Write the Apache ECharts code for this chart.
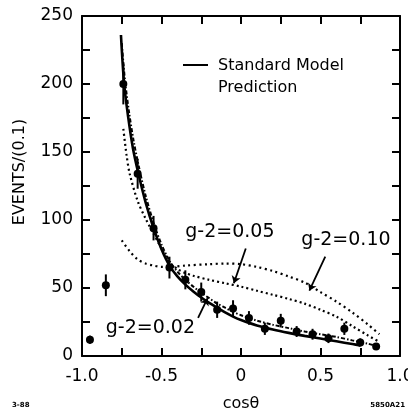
<!DOCTYPE html>
<html><head><meta charset="utf-8">
<script src="https://cdn.jsdelivr.net/npm/echarts@6/dist/echarts.min.js"></script>
<style>html,body{margin:0;padding:0;background:#fff}#c{width:408px;height:413px}</style>
</head><body><div id="c"></div>
<script>
// ---- data ----
const binCenters = [-0.95,-0.85,-0.74,-0.65,-0.55,-0.45,-0.35,-0.25,-0.15,-0.05,0.05,0.15,0.25,0.35,0.45,0.55,0.65,0.75,0.85];
const events     = [12,52,200,134,94,65,56,47,34,35,28,20,26,18,16,13,20,10,7];
const errors     = [3,8,15,11,9,8,7,7,6,6,5,4.5,5,4,4,3.5,4.5,3,2.5];

const smX = [-0.755,-0.735,-0.71,-0.68,-0.645,-0.60,-0.55,-0.50,-0.45,-0.40,-0.35,-0.30,-0.25,-0.20,-0.15,-0.10,-0.05,0,0.1,0.2,0.3,0.4,0.5,0.6,0.7,0.75];
const smY = [236,200,176,153,134,113,94,78.5,66.5,58.5,52.5,47.5,43,39,35.5,32,29,26.5,22.5,19.5,17,14.8,12.8,10.8,8.8,7.8];

const g02X = [-0.75,-0.73,-0.705,-0.675,-0.64,-0.60,-0.55,-0.50,-0.45,-0.40,-0.35,-0.30,-0.25,-0.20,-0.15,-0.10,-0.05,0,0.1,0.2,0.3,0.4,0.5,0.6,0.7,0.8,0.85];
const g02Y = [230,203,180,158,138,118,98,82,70,62,56,51,46.5,42.5,38.5,35.5,32.5,30,26,23,20.5,18,16,14,11.5,9,7.5];

const g05X = [-0.74,-0.72,-0.70,-0.65,-0.60,-0.55,-0.50,-0.45,-0.40,-0.35,-0.30,-0.20,-0.10,0,0.1,0.2,0.3,0.4,0.5,0.6,0.7,0.8,0.86];
const g05Y = [167,148,134,114,101,90,79,69,64,61,59,56,53.5,51,48,45,42,38.5,34,29,22,15,11];

const g10X = [-0.75,-0.70,-0.65,-0.60,-0.55,-0.50,-0.45,-0.35,-0.20,-0.10,0,0.1,0.2,0.3,0.4,0.5,0.6,0.7,0.8,0.87];
const g10Y = [85,77,71,68,66.5,65.5,65.5,66.5,67.5,68,67.5,65.5,62.5,58.5,54,47,40,32,23,16];

const xTicks = [-1.0,-0.5,0,0.5,1.0];
const xTickLabels = ['-1.0','-0.5','0','0.5','1.0'];
const yTicks = [0,50,100,150,200,250];

const annotations = [
  {text:'g-2=0.05', at:[-0.07,91], from:[0.03,79], to:[-0.045,53.5]},
  {text:'g-2=0.10', at:[0.66,85], from:[0.53,73], to:[0.43,48]},
  {text:'g-2=0.02', at:[-0.57,20.5], from:[-0.27,28], to:[-0.21,42.5]}
];

const FONT = 'DejaVu Sans';
const zip = (a,b) => a.map((v,i)=>[v,b[i]]);

const chart = echarts.init(document.getElementById('c'), null, {renderer:'canvas'});

const axisCommon = {
  axisLine:{show:true, onZero:false, lineStyle:{color:'#000', width:2}},
  axisTick:{show:true, inside:true, length:8, lineStyle:{color:'#000', width:2}},
  splitLine:{show:false}
};

const option = {
  backgroundColor:'#fff',
  animation:false,
  grid:{left:82, right:8, top:16, bottom:57, containLabel:false, outerBoundsMode:'none'},
  xAxis:[
    Object.assign({type:'value', min:-1, max:1, interval:0.25, position:'bottom',
      axisLabel:{show:true, margin:12, color:'#000', fontFamily:FONT, fontSize:17,
        formatter:(v)=>{const i=xTicks.findIndex(t=>Math.abs(t-v)<1e-6); return i>=0?xTickLabels[i]:'';}}}, axisCommon),
    Object.assign({type:'value', min:-1, max:1, interval:0.25, position:'top', axisLabel:{show:false}}, axisCommon)
  ],
  yAxis:[
    Object.assign({type:'value', min:0, max:250, interval:25, position:'left',
      axisLabel:{show:true, margin:9, color:'#000', fontFamily:FONT, fontSize:17,
        formatter:(v)=>yTicks.indexOf(v)>=0?String(v):''}}, axisCommon),
    Object.assign({type:'value', min:0, max:250, interval:25, position:'right', axisLabel:{show:false}}, axisCommon)
  ],
  series:[
    {type:'line', name:'SM', data:zip(smX,smY), smooth:0.3, showSymbol:false,
      lineStyle:{color:'#000', width:2.6}, z:5},
    {type:'line', name:'g02', data:zip(g02X,g02Y), smooth:0.3, showSymbol:false,
      lineStyle:{color:'#000', width:2, type:[4,2,1.5,2]}, z:4},
    {type:'line', name:'g05', data:zip(g05X,g05Y), smooth:0.3, showSymbol:false,
      lineStyle:{color:'#000', width:2.2, type:[2,3]}, z:4},
    {type:'line', name:'g10', data:zip(g10X,g10Y), smooth:0.3, showSymbol:false,
      lineStyle:{color:'#000', width:2.2, type:[2,3.5]}, z:4},
    {type:'custom', name:'data', z:10,
      data: binCenters.map((x,i)=>[x, events[i], errors[i]]),
      renderItem:(params, api)=>{
        const x = api.value(0), y = api.value(1), e = api.value(2);
        const p = api.coord([x,y]);
        const lo = api.coord([x, y-e]);
        const hi = api.coord([x, y+e]);
        return {type:'group', children:[
          {type:'line', shape:{x1:p[0], y1:lo[1], x2:p[0], y2:hi[1]}, style:{stroke:'#000', lineWidth:2}},
          {type:'circle', shape:{cx:p[0], cy:p[1], r:4}, style:{fill:'#000'}}
        ]};
      }
    },
    {type:'lines', coordinateSystem:'cartesian2d', z:6,
      data: annotations.map(a=>({coords:[a.from, a.to]})),
      symbol:['none','arrow'], symbolSize:7,
      lineStyle:{color:'#000', width:1.8, opacity:1}
    }
  ],
  graphic:[]
};
chart.setOption(option);

const g = [];
annotations.forEach(a=>{
  const p = chart.convertToPixel({xAxisIndex:0, yAxisIndex:0}, a.at);
  g.push({type:'text', x:p[0], y:p[1], style:{text:a.text, fill:'#000', font:'19px "'+FONT+'"', textAlign:'center', textVerticalAlign:'middle'}, z:20});
});
// legend
g.push({type:'line', shape:{x1:183, y1:65, x2:208, y2:65}, style:{stroke:'#000', lineWidth:2}, z:20});
g.push({type:'text', x:218, y:66, style:{text:'Standard Model', fill:'#000', font:'16px "'+FONT+'"', textVerticalAlign:'middle'}, z:20});
g.push({type:'text', x:218, y:88, style:{text:'Prediction', fill:'#000', font:'16px "'+FONT+'"', textVerticalAlign:'middle'}, z:20});
// axis titles
g.push({type:'text', x:20, y:172, rotation:Math.PI/2, style:{text:'EVENTS/(0.1)', fill:'#000', font:'16px "'+FONT+'"', textAlign:'center', textVerticalAlign:'middle'}, z:20});
g.push({type:'text', x:241, y:404, style:{text:'cosθ', fill:'#000', font:'16px "'+FONT+'"', textAlign:'center', textVerticalAlign:'middle'}, z:20});
// figure ids
g.push({type:'text', x:12, y:405, style:{text:'3-88', fill:'#000', font:'bold 7px "'+FONT+'"', textVerticalAlign:'middle'}, z:20});
g.push({type:'text', x:405, y:405, style:{text:'5850A21', fill:'#000', font:'bold 7px "'+FONT+'"', textAlign:'right', textVerticalAlign:'middle'}, z:20});
chart.setOption({graphic:g});
</script>
</body></html>
